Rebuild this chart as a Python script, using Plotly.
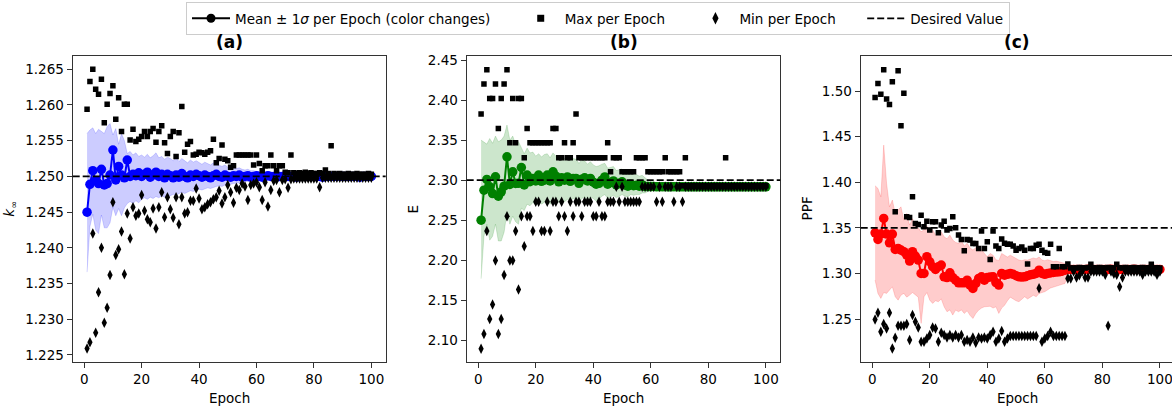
import plotly.graph_objects as go
from plotly.subplots import make_subplots

W, H = 1172, 411

epochs = list(range(1, 101))

# ---- (a) k_inf ----
kinf_target = 1.25
kinf_mean = [1.2450, 1.2489, 1.2508, 1.2494, 1.2490, 1.2510, 1.2488, 1.2490, 1.2502, 1.2537,
             1.2495, 1.2514, 1.2502, 1.2498, 1.2523, 1.2500, 1.2503, 1.2501, 1.2505, 1.2500,
             1.2503, 1.2506, 1.2499, 1.2502, 1.2506, 1.2500, 1.2503, 1.2498, 1.2503, 1.2501,
             1.2498, 1.2502, 1.2499, 1.2504, 1.2500, 1.2498, 1.2502, 1.2500, 1.2503, 1.2501,
             1.2499, 1.2502, 1.2500, 1.2498, 1.2501, 1.2503, 1.2500, 1.2499, 1.2502, 1.2500,
             1.2499, 1.2501, 1.2500, 1.2502, 1.2499, 1.2500, 1.2501, 1.2499, 1.2500, 1.2501,
             1.2500, 1.2499, 1.2500, 1.2501, 1.2500, 1.2500, 1.2499, 1.2500, 1.2500, 1.2501,
             1.2500, 1.2500, 1.2500, 1.2499, 1.2500, 1.2500, 1.2500, 1.2501, 1.2500, 1.2500,
             1.2500, 1.2500, 1.2499, 1.2500, 1.2500, 1.2500, 1.2500, 1.2500, 1.2501, 1.2500,
             1.2500, 1.2500, 1.2500, 1.2500, 1.2500, 1.2499, 1.2500, 1.2500, 1.2500, 1.2500]
kinf_hi = [1.2560, 1.2565, 1.2568, 1.2560, 1.2566, 1.2563, 1.2560, 1.2570, 1.2574, 1.2558,
           1.2567, 1.2545, 1.2560, 1.2550, 1.2532, 1.2535, 1.2530, 1.2533, 1.2528, 1.2530,
           1.2527, 1.2531, 1.2526, 1.2529, 1.2533, 1.2526, 1.2528, 1.2524, 1.2527, 1.2525,
           1.2522, 1.2526, 1.2521, 1.2525, 1.2522, 1.2519, 1.2523, 1.2520, 1.2522, 1.2519,
           1.2517, 1.2520, 1.2518, 1.2516, 1.2519, 1.2517, 1.2515, 1.2514, 1.2516, 1.2513,
           1.2512, 1.2513, 1.2511, 1.2512, 1.2510, 1.2509, 1.2510, 1.2508, 1.2508, 1.2507,
           1.2506, 1.2506, 1.2505, 1.2505, 1.2504, 1.2504, 1.2503, 1.2503, 1.2503, 1.2502,
           1.2502, 1.2502, 1.2502, 1.2502, 1.2502, 1.2502, 1.2501, 1.2502, 1.2501, 1.2501,
           1.2501, 1.2501, 1.2501, 1.2501, 1.2501, 1.2501, 1.2501, 1.2501, 1.2501, 1.2501,
           1.2501, 1.2501, 1.2501, 1.2501, 1.2501, 1.2501, 1.2501, 1.2501, 1.2501, 1.2501]
kinf_lo = [1.2366, 1.2430, 1.2447, 1.2425, 1.2420, 1.2446, 1.2428, 1.2428, 1.2435, 1.2457,
           1.2445, 1.2455, 1.2445, 1.2456, 1.2462, 1.2465, 1.2462, 1.2466, 1.2463, 1.2468,
           1.2470, 1.2468, 1.2471, 1.2469, 1.2472, 1.2470, 1.2473, 1.2471, 1.2474, 1.2473,
           1.2475, 1.2474, 1.2476, 1.2478, 1.2476, 1.2478, 1.2480, 1.2479, 1.2481, 1.2482,
           1.2481, 1.2483, 1.2484, 1.2483, 1.2485, 1.2486, 1.2487, 1.2486, 1.2488, 1.2489,
           1.2489, 1.2490, 1.2491, 1.2491, 1.2492, 1.2493, 1.2493, 1.2494, 1.2494, 1.2495,
           1.2495, 1.2496, 1.2496, 1.2496, 1.2497, 1.2497, 1.2497, 1.2497, 1.2498, 1.2498,
           1.2498, 1.2498, 1.2498, 1.2498, 1.2499, 1.2498, 1.2499, 1.2499, 1.2499, 1.2499,
           1.2499, 1.2499, 1.2499, 1.2499, 1.2499, 1.2499, 1.2499, 1.2499, 1.2499, 1.2499,
           1.2499, 1.2499, 1.2499, 1.2499, 1.2499, 1.2499, 1.2499, 1.2499, 1.2499, 1.2499]
kinf_max = [1.2594, 1.2633, 1.2650, 1.2622, 1.2615, 1.2636, 1.2575, 1.2601, 1.2616, 1.2627,
            1.2580, 1.2610, 1.2563, 1.2601, 1.2601, 1.2551, 1.2566, 1.2549, 1.2552, 1.2556,
            1.2563, 1.2556, 1.2563, 1.2567, 1.2548, 1.2563, 1.2571, 1.2547, 1.2532, 1.2556,
            1.2563, 1.2528, 1.2561, 1.2598, 1.2534, 1.2545, 1.2549, 1.2530, 1.2531, 1.2534,
            1.2533, 1.2531, 1.2534, 1.2536, 1.2552, 1.2519, 1.2525, 1.2544, 1.2524, 1.2522,
            1.2513, 1.2515, 1.2530, 1.2530, 1.2530, 1.2530, 1.2530, 1.2530, 1.2516, 1.2530,
            1.2518, 1.2508, 1.2515, 1.2515, 1.2530, 1.2515, 1.2508, 1.2515, 1.2515, 1.2506,
            1.2505, 1.2530, 1.2505, 1.2504, 1.2505, 1.2504, 1.2506, 1.2504, 1.2505, 1.2504,
            1.2504, 1.2505, 1.2504, 1.2509, 1.2504, 1.2543, 1.2504, 1.2503, 1.2504, 1.2503,
            1.2503, 1.2504, 1.2503, 1.2503, 1.2504, 1.2503, 1.2503, 1.2503, 1.2504, 1.2503]
kinf_min = [1.2259, 1.2268, 1.2420, 1.2281, 1.2338, 1.2400, 1.2295, 1.2316, 1.2362, 1.2464,
            1.2390, 1.2398, 1.2423, 1.2363, 1.2448, 1.2413, 1.2457, 1.2445, 1.2448, 1.2474,
            1.2452, 1.2440, 1.2436, 1.2455, 1.2427, 1.2457, 1.2478, 1.2443, 1.2471, 1.2454,
            1.2442, 1.2471, 1.2433, 1.2471, 1.2448, 1.2450, 1.2466, 1.2466, 1.2483, 1.2469,
            1.2454, 1.2457, 1.2461, 1.2464, 1.2468, 1.2471, 1.2480, 1.2462, 1.2471, 1.2488,
            1.2478, 1.2463, 1.2484, 1.2481, 1.2490, 1.2486, 1.2467, 1.2488, 1.2490, 1.2492,
            1.2485, 1.2467, 1.2492, 1.2458, 1.2481, 1.2494, 1.2495, 1.2478, 1.2495, 1.2496,
            1.2484, 1.2496, 1.2497, 1.2497, 1.2497, 1.2497, 1.2497, 1.2497, 1.2497, 1.2497,
            1.2497, 1.2485, 1.2498, 1.2498, 1.2498, 1.2498, 1.2498, 1.2498, 1.2498, 1.2498,
            1.2498, 1.2498, 1.2498, 1.2498, 1.2498, 1.2498, 1.2498, 1.2498, 1.2498, 1.2498]

# ---- (b) E ----
e_target = 2.30
e_mean = [2.2500, 2.2875, 2.3009, 2.2917, 2.2833, 2.3042, 2.2800, 2.2854, 2.2925, 2.3292,
          2.2946, 2.3104, 2.2958, 2.2960, 2.3158, 2.2940, 2.3063, 2.2980, 2.3021, 2.2990,
          2.3063, 2.2985, 2.3000, 2.3063, 2.2990, 2.3104, 2.3050, 2.2979, 2.3030, 2.3000,
          2.3040, 2.2985, 2.3021, 2.3021, 2.2960, 2.3010, 2.3030, 2.2990, 2.3021, 2.2975,
          2.2950, 2.2960, 2.3000, 2.3040, 2.2950, 2.2970, 2.2990, 2.2940, 2.2960, 2.2980,
          2.2940, 2.2925, 2.2950, 2.2930, 2.2935, 2.2925, 2.2940, 2.2920, 2.2920, 2.2918,
          2.2920, 2.2917, 2.2919, 2.2917, 2.2918, 2.2917, 2.2917, 2.2918, 2.2917, 2.2917,
          2.2917, 2.2917, 2.2917, 2.2917, 2.2917, 2.2917, 2.2917, 2.2917, 2.2917, 2.2917,
          2.2917, 2.2917, 2.2917, 2.2917, 2.2917, 2.2917, 2.2917, 2.2917, 2.2917, 2.2917,
          2.2917, 2.2917, 2.2917, 2.2917, 2.2917, 2.2917, 2.2917, 2.2917, 2.2917, 2.2917]
e_hi = [2.3500, 2.3480, 2.3450, 2.3520, 2.3460, 2.3550, 2.3480, 2.3500, 2.3550, 2.3688,
        2.3500, 2.3550, 2.3450, 2.3480, 2.3400, 2.3330, 2.3400, 2.3340, 2.3350, 2.3300,
        2.3330, 2.3290, 2.3320, 2.3330, 2.3280, 2.3340, 2.3300, 2.3260, 2.3300, 2.3270,
        2.3290, 2.3250, 2.3270, 2.3260, 2.3210, 2.3250, 2.3240, 2.3200, 2.3230, 2.3190,
        2.3170, 2.3180, 2.3200, 2.3210, 2.3150, 2.3160, 2.3170, 2.3120, 2.3130, 2.3140,
        2.3100, 2.3080, 2.3100, 2.3070, 2.3070, 2.3050, 2.3060, 2.3030, 2.3000, 2.2990,
        2.2970, 2.2960, 2.2935, 2.2930, 2.2930, 2.2930, 2.2928, 2.2928, 2.2926, 2.2925,
        2.2924, 2.2924, 2.2923, 2.2923, 2.2922, 2.2922, 2.2922, 2.2921, 2.2921, 2.2921,
        2.2920, 2.2920, 2.2920, 2.2920, 2.2920, 2.2920, 2.2920, 2.2920, 2.2920, 2.2920,
        2.2920, 2.2920, 2.2920, 2.2920, 2.2920, 2.2920, 2.2920, 2.2920, 2.2920, 2.2920]
e_lo = [2.1770, 2.2300, 2.2450, 2.2250, 2.2300, 2.2450, 2.2240, 2.2240, 2.2350, 2.2600,
        2.2450, 2.2550, 2.2480, 2.2450, 2.2650, 2.2620, 2.2700, 2.2680, 2.2720, 2.2690,
        2.2740, 2.2700, 2.2720, 2.2750, 2.2700, 2.2740, 2.2760, 2.2720, 2.2760, 2.2730,
        2.2760, 2.2740, 2.2770, 2.2760, 2.2720, 2.2770, 2.2790, 2.2760, 2.2790, 2.2770,
        2.2740, 2.2760, 2.2800, 2.2820, 2.2770, 2.2790, 2.2810, 2.2780, 2.2800, 2.2820,
        2.2800, 2.2790, 2.2820, 2.2810, 2.2820, 2.2820, 2.2840, 2.2840, 2.2860, 2.2870,
        2.2880, 2.2890, 2.2900, 2.2905, 2.2906, 2.2907, 2.2908, 2.2909, 2.2910, 2.2910,
        2.2911, 2.2911, 2.2912, 2.2912, 2.2913, 2.2913, 2.2913, 2.2914, 2.2914, 2.2914,
        2.2914, 2.2914, 2.2914, 2.2914, 2.2914, 2.2914, 2.2914, 2.2914, 2.2914, 2.2914,
        2.2914, 2.2914, 2.2914, 2.2914, 2.2914, 2.2914, 2.2914, 2.2914, 2.2914, 2.2914]
e_max = [2.3825, 2.4200, 2.4379, 2.4021, 2.4021, 2.4200, 2.3646, 2.4021, 2.4200, 2.4379,
         2.3466, 2.4021, 2.3466, 2.4021, 2.4021, 2.3279, 2.3646, 2.3466, 2.3466, 2.3466,
         2.3466, 2.3466, 2.3466, 2.3466, 2.3466, 2.3646, 2.3646, 2.3279, 2.3279, 2.3466,
         2.3279, 2.3279, 2.3466, 2.3825, 2.3279, 2.3279, 2.3279, 2.3279, 2.3279, 2.3279,
         2.3279, 2.3279, 2.3279, 2.3279, 2.3466, 2.3104, 2.3279, 2.3279, 2.3279, 2.3104,
         2.3104, 2.3104, 2.3104, 2.3104, 2.3279, 2.3279, 2.3279, 2.3279, 2.3104, 2.3104,
         2.3104, 2.3104, 2.3104, 2.3104, 2.3279, 2.3104, 2.3104, 2.3104, 2.3104, 2.3104,
         2.2930, 2.3279, 2.2930, 2.2930, 2.2930, 2.2930, 2.2930, 2.2930, 2.2930, 2.2930,
         2.2930, 2.2930, 2.2930, 2.2930, 2.2930, 2.3279, 2.2930, 2.2930, 2.2930, 2.2930,
         2.2930, 2.2930, 2.2930, 2.2930, 2.2930, 2.2930, 2.2930, 2.2930, 2.2930, 2.2930]
e_min = [2.0896, 2.1079, 2.2366, 2.1266, 2.1446, 2.1996, 2.1079, 2.1266, 2.1816, 2.2550,
         2.1996, 2.1996, 2.2366, 2.1634, 2.2550, 2.2175, 2.2550, 2.2550, 2.2366, 2.2729,
         2.2729, 2.2366, 2.2366, 2.2729, 2.2366, 2.2729, 2.2729, 2.2550, 2.2729, 2.2550,
         2.2366, 2.2729, 2.2550, 2.2729, 2.2729, 2.2550, 2.2729, 2.2729, 2.2729, 2.2550,
         2.2550, 2.2729, 2.2550, 2.2550, 2.2729, 2.2729, 2.2729, 2.2917, 2.2729, 2.2917,
         2.2729, 2.2729, 2.2729, 2.2729, 2.2729, 2.2729, 2.2917, 2.2917, 2.2917, 2.2917,
         2.2917, 2.2729, 2.2917, 2.2729, 2.2917, 2.2917, 2.2917, 2.2729, 2.2917, 2.2917,
         2.2729, 2.2917, 2.2917, 2.2917, 2.2917, 2.2917, 2.2917, 2.2917, 2.2917, 2.2917,
         2.2917, 2.2917, 2.2917, 2.2917, 2.2917, 2.2917, 2.2917, 2.2917, 2.2917, 2.2917,
         2.2917, 2.2917, 2.2917, 2.2917, 2.2917, 2.2917, 2.2917, 2.2917, 2.2917, 2.2917]

# ---- (c) PPF ----
ppf_target = 1.35
ppf_mean = [1.3445, 1.3373, 1.3431, 1.3603, 1.3431, 1.3336, 1.3431, 1.3263, 1.3274, 1.3256,
            1.3238, 1.3201, 1.3135, 1.3238, 1.3190, 1.3146, 1.3000, 1.3000, 1.3183, 1.3128,
            1.3073, 1.3044, 1.3073, 1.3091, 1.2963, 1.2955, 1.3007, 1.2955, 1.2926, 1.2897,
            1.2897, 1.2897, 1.2926, 1.2871, 1.2835, 1.2890, 1.2945, 1.2963, 1.2926, 1.2955,
            1.2960, 1.2963, 1.2900, 1.2872, 1.3000, 1.2980, 1.2990, 1.3000, 1.2990, 1.2975,
            1.2963, 1.2960, 1.2963, 1.2975, 1.2985, 1.2990, 1.3000, 1.3036, 1.3000, 1.2990,
            1.3000, 1.3005, 1.3010, 1.3015, 1.3018, 1.3025, 1.3036, 1.3040, 1.3044, 1.3044,
            1.3044, 1.3043, 1.3044, 1.3044, 1.3045, 1.3044, 1.3044, 1.3043, 1.3044, 1.3044,
            1.3044, 1.3044, 1.3045, 1.3044, 1.3044, 1.3043, 1.3044, 1.3044, 1.3044, 1.3044,
            1.3045, 1.3044, 1.3044, 1.3044, 1.3043, 1.3044, 1.3044, 1.3044, 1.3044, 1.3044]
ppf_hi = [1.3961, 1.3932, 1.3840, 1.4407, 1.3987, 1.3730, 1.3804, 1.3658, 1.3694, 1.3730,
          1.3584, 1.3658, 1.3530, 1.3600, 1.3530, 1.3500, 1.3456, 1.3480, 1.3520, 1.3456,
          1.3480, 1.3420, 1.3430, 1.3456, 1.3401, 1.3380, 1.3420, 1.3365, 1.3340, 1.3330,
          1.3360, 1.3300, 1.3330, 1.3280, 1.3256, 1.3280, 1.3250, 1.3260, 1.3219, 1.3182,
          1.3219, 1.3200, 1.3150, 1.3140, 1.3219, 1.3200, 1.3180, 1.3200, 1.3180, 1.3160,
          1.3146, 1.3140, 1.3150, 1.3146, 1.3160, 1.3170, 1.3160, 1.3180, 1.3146, 1.3140,
          1.3150, 1.3140, 1.3130, 1.3135, 1.3128, 1.3120, 1.3110, 1.3070, 1.3056, 1.3055,
          1.3055, 1.3054, 1.3055, 1.3055, 1.3056, 1.3055, 1.3055, 1.3054, 1.3055, 1.3055,
          1.3055, 1.3055, 1.3056, 1.3055, 1.3055, 1.3054, 1.3055, 1.3055, 1.3055, 1.3055,
          1.3056, 1.3055, 1.3055, 1.3055, 1.3054, 1.3055, 1.3055, 1.3055, 1.3055, 1.3055]
ppf_lo = [1.2927, 1.2780, 1.2726, 1.2790, 1.2781, 1.2820, 1.2853, 1.2744, 1.2707, 1.2762,
          1.2781, 1.2740, 1.2762, 1.2790, 1.2762, 1.2740, 1.2452, 1.2744, 1.2790, 1.2707,
          1.2671, 1.2700, 1.2690, 1.2720, 1.2634, 1.2580, 1.2600, 1.2543, 1.2598, 1.2580,
          1.2600, 1.2561, 1.2590, 1.2540, 1.2506, 1.2560, 1.2598, 1.2620, 1.2634, 1.2640,
          1.2640, 1.2620, 1.2634, 1.2561, 1.2620, 1.2650, 1.2700, 1.2740, 1.2720, 1.2700,
          1.2690, 1.2720, 1.2744, 1.2720, 1.2740, 1.2760, 1.2744, 1.2780, 1.2790, 1.2800,
          1.2820, 1.2840, 1.2853, 1.2860, 1.2870, 1.2880, 1.2890, 1.3010, 1.3032, 1.3033,
          1.3033, 1.3032, 1.3033, 1.3033, 1.3034, 1.3033, 1.3033, 1.3032, 1.3033, 1.3033,
          1.3033, 1.3033, 1.3034, 1.3033, 1.3033, 1.3032, 1.3033, 1.3033, 1.3033, 1.3033,
          1.3034, 1.3033, 1.3033, 1.3033, 1.3032, 1.3033, 1.3033, 1.3033, 1.3033, 1.3033]
ppf_max = [1.4930, 1.5083, 1.4963, 1.5232, 1.4911, 1.4853, 1.5101, 1.3675, 1.5222, 1.4618,
           1.4974, 1.3621, 1.3614, 1.3840, 1.3548, 1.3537, 1.3639, 1.3511, 1.3573, 1.3475,
           1.3566, 1.3566, 1.3445, 1.3530, 1.3573, 1.3475, 1.3493, 1.3621, 1.3500, 1.3420,
           1.3373, 1.3248, 1.3373, 1.3365, 1.3329, 1.3329, 1.3274, 1.3464, 1.3274, 1.3347,
           1.3153, 1.3464, 1.3300, 1.3274, 1.3376, 1.3330, 1.3320, 1.3320, 1.3300, 1.3255,
           1.3274, 1.3290, 1.3255, 1.3102, 1.3274, 1.3274, 1.3310, 1.3320, 1.3255, 1.3230,
           1.3220, 1.3321, 1.3072, 1.3072, 1.3274, 1.3072, 1.3072, 1.3102, 1.3060, 1.3060,
           1.3060, 1.3065, 1.3062, 1.3060, 1.3065, 1.3100, 1.3062, 1.3060, 1.3065, 1.3062,
           1.3060, 1.3065, 1.3062, 1.3060, 1.3100, 1.3062, 1.3060, 1.3065, 1.3060, 1.3062,
           1.3065, 1.3060, 1.3062, 1.3065, 1.3060, 1.3062, 1.3100, 1.3060, 1.3062, 1.3060]
ppf_min = [1.2496, 1.2568, 1.2360, 1.2444, 1.2397, 1.2568, 1.2178, 1.2294, 1.2425, 1.2425,
           1.2425, 1.2444, 1.2269, 1.2543, 1.2469, 1.2408, 1.2250, 1.2250, 1.2287, 1.2324,
           1.2408, 1.2397, 1.2250, 1.2349, 1.2324, 1.2298, 1.2324, 1.2298, 1.2324, 1.2298,
           1.2324, 1.2250, 1.2269, 1.2250, 1.2298, 1.2240, 1.2298, 1.2287, 1.2298, 1.2287,
           1.2324, 1.2360, 1.2250, 1.2287, 1.2369, 1.2250, 1.2287, 1.2313, 1.2313, 1.2313,
           1.2313, 1.2313, 1.2313, 1.2313, 1.2313, 1.2313, 1.2313, 1.2836, 1.2250, 1.2287,
           1.2313, 1.2360, 1.2313, 1.2313, 1.2313, 1.2313, 1.2313, 1.2945, 1.2945, 1.3020,
           1.2955, 1.2980, 1.3020, 1.2955, 1.2955, 1.3020, 1.3020, 1.3020, 1.3020, 1.3020,
           1.2985, 1.2425, 1.3020, 1.2995, 1.2985, 1.2853, 1.2955, 1.3020, 1.3020, 1.3020,
           1.3020, 1.3020, 1.3020, 1.2985, 1.3020, 1.3020, 1.3020, 1.3020, 1.2985, 1.3020]

FONT = "DejaVu Sans"
NBSP = "\u00a0"
DASH = "7px,3px"

fig = make_subplots(rows=1, cols=3)


def add_panel(col, mean, hi, lo, vmax, vmin, target, color, band):
    # shaded +-1 sigma band
    fig.add_trace(go.Scatter(x=epochs + epochs[::-1], y=hi + lo[::-1], fill="toself",
                             fillcolor=band, line=dict(color=band, width=0.8), mode="lines",
                             hoverinfo="skip", showlegend=False), row=1, col=col)
    fig.add_trace(go.Scatter(x=epochs, y=mean, mode="lines+markers",
                             line=dict(color=color, width=2),
                             marker=dict(size=9.5, color=color), showlegend=False), row=1, col=col)
    fig.add_trace(go.Scatter(x=epochs, y=vmax, mode="markers",
                             marker=dict(symbol="square", size=5.5, color="black"),
                             showlegend=False), row=1, col=col)
    fig.add_trace(go.Scatter(x=epochs, y=vmin, mode="markers",
                             marker=dict(symbol="diamond-tall", size=7.5, color="black"),
                             showlegend=False), row=1, col=col)
    fig.add_hline(y=target, line=dict(color="black", width=1.8, dash=DASH),
                  layer="above", row=1, col=col)


add_panel(1, kinf_mean, kinf_hi, kinf_lo, kinf_max, kinf_min, kinf_target, "blue", "rgba(0,0,255,0.2)")
add_panel(2, e_mean, e_hi, e_lo, e_max, e_min, e_target, "green", "rgba(0,128,0,0.2)")
add_panel(3, ppf_mean, ppf_hi, ppf_lo, ppf_max, ppf_min, ppf_target, "red", "rgba(255,0,0,0.2)")

# legend-only entries (black, as in the reference)
fig.add_trace(go.Scatter(x=[None], y=[None], mode="lines+markers",
                         line=dict(color="black", width=2), marker=dict(size=9, color="black"),
                         name="Mean ± 1<i>σ</i> per Epoch (color changes)" + NBSP * 5))
fig.add_trace(go.Scatter(x=[None], y=[None], mode="markers",
                         marker=dict(symbol="square", size=7, color="black"),
                         name="Max per Epoch" + NBSP * 5))
fig.add_trace(go.Scatter(x=[None], y=[None], mode="markers",
                         marker=dict(symbol="diamond-tall", size=9, color="black"),
                         name="Min per Epoch" + NBSP * 5))
fig.add_trace(go.Scatter(x=[None], y=[None], mode="lines",
                         line=dict(color="black", width=1.8, dash=DASH),
                         name="Desired Value"))

axis_style = dict(showline=True, linecolor="#333", linewidth=1.2, mirror=True,
                  ticks="outside", ticklen=5, tickwidth=1.2, tickcolor="#333",
                  showgrid=False, zeroline=False, automargin=False,
                  ticklabeloverflow="allow",
                  tickfont=dict(family=FONT, size=13.5, color="black"))

y_dom = [1 - 361.7 / H, 1 - 55.7 / H]
x_doms = [[72.7 / W, 385.7 / W], [466.7 / W, 780.3 / W], [860.7 / W, 1.0]]
x_ranges = [[-4.0, 105.0], [-4.0, 105.0], [-4.0, 104.2]]
y_ranges = [[1.22406, 1.2669], [2.0733, 2.4554], [1.2032, 1.5387]]
y_fmt = [".3f", ".2f", ".2f"]
y_dtick = [0.005, 0.05, 0.05]

for i in range(3):
    fig.update_xaxes(axis_style, domain=x_doms[i], range=x_ranges[i], tick0=0, dtick=20,
                     row=1, col=i + 1)
    fig.update_yaxes(axis_style, domain=y_dom, range=y_ranges[i], tick0=0,
                     dtick=y_dtick[i], tickformat=y_fmt[i], row=1, col=i + 1)
fig.update_yaxes(mirror=False, row=1, col=3)

annotations = []
panel_titles = ["<b>(a)</b>", "<b>(b)</b>", "<b>(c)</b>"]
y_titles = ["<i>k</i><sub>∞</sub>", "E", "PPF"]
y_title_x = [10, 412.7, 806.7]
for i in range(3):
    cx = (x_doms[i][0] + x_doms[i][1]) / 2 if i < 2 else 1017 / W
    annotations.append(dict(text=panel_titles[i], x=cx, y=1 - 42 / H, xref="paper", yref="paper",
                            xanchor="center", yanchor="middle", showarrow=False,
                            font=dict(family=FONT, size=17, color="black")))
    annotations.append(dict(text="Epoch", x=cx, y=1 - 398 / H, xref="paper", yref="paper",
                            xanchor="center", yanchor="middle", showarrow=False,
                            font=dict(family=FONT, size=13.5, color="black")))
    annotations.append(dict(text=y_titles[i], x=y_title_x[i] / W, y=1 - 208.7 / H,
                            xref="paper", yref="paper", xanchor="center", yanchor="middle",
                            textangle=-90, showarrow=False,
                            font=dict(family=FONT, size=13.5, color="black")))

fig.update_layout(
    width=W, height=H,
    margin=dict(l=0, r=0, t=0, b=0),
    paper_bgcolor="white", plot_bgcolor="white",
    font=dict(family=FONT, size=13.5, color="black"),
    annotations=annotations,
    showlegend=True,
    legend=dict(orientation="h", x=186 / W, xanchor="left", y=1 - 2 / H, yanchor="top",
                bordercolor="#cccccc", borderwidth=1, bgcolor="white", itemwidth=38,
                font=dict(family=FONT, size=13.5, color="black")),
)

# drop the browser's default body margin so the figure sits at (0, 0)
fig.write_html("out.html", config={"displayModeBar": False},
               post_script="document.body.style.margin='0';")
